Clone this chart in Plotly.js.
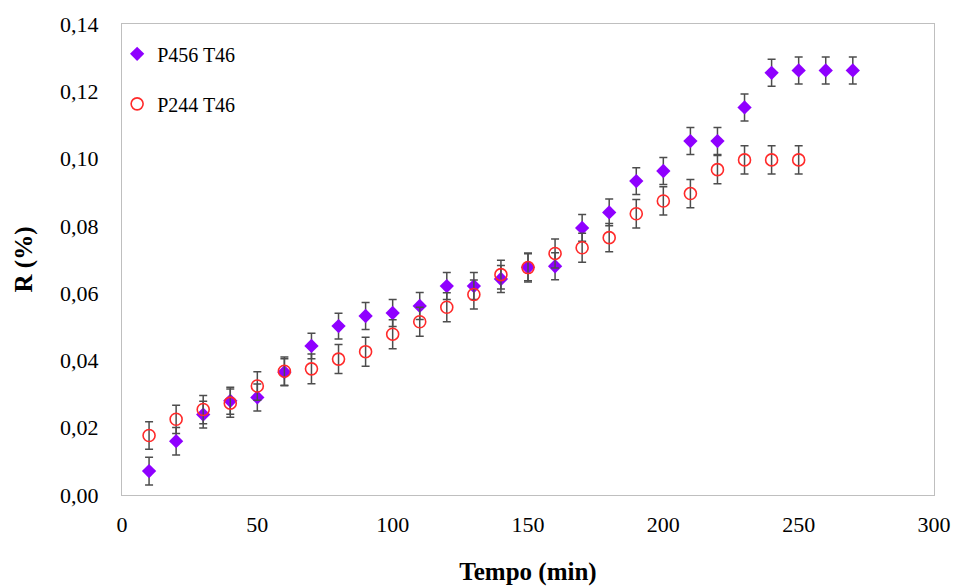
<!DOCTYPE html>
<html>
<head>
<meta charset="utf-8">
<script src="https://cdn.plot.ly/plotly-3.0.1.min.js"></script>
<style>
  html, body { margin: 0; padding: 0; background: #fff; }
  #chart { width: 954px; height: 586px; }
</style>
</head>
<body>
<div id="chart"></div>
<script>
// Time points (min)
const tempoP456 = [10, 20, 30, 40, 50, 60, 70, 80, 90, 100, 110, 120, 130, 140, 150, 160, 170, 180, 190, 200, 210, 220, 230, 240, 250, 260, 270];
const tempoP244 = [10, 20, 30, 40, 50, 60, 70, 80, 90, 100, 110, 120, 130, 140, 150, 160, 170, 180, 190, 200, 210, 220, 230, 240, 250];

// R (%) values
const rP456 = [0.0071, 0.0160, 0.0239, 0.0280, 0.0290, 0.0365, 0.0443, 0.0502, 0.0532, 0.0541, 0.0562, 0.0621, 0.0621, 0.0642, 0.0677, 0.0680, 0.0794, 0.0840, 0.0933, 0.0963, 0.1052, 0.1052, 0.1152, 0.1255, 0.1262, 0.1262, 0.1262];
const rP244 = [0.0177, 0.0225, 0.0254, 0.0273, 0.0324, 0.0368, 0.0375, 0.0404, 0.0426, 0.0478, 0.0515, 0.0558, 0.0596, 0.0655, 0.0676, 0.0718, 0.0735, 0.0765, 0.0836, 0.0874, 0.0896, 0.0967, 0.0996, 0.0996, 0.0996];

// Standard deviations
const errP456 = [0.0041, 0.0041, 0.0040, 0.0040, 0.0040, 0.0040, 0.0038, 0.0038, 0.0040, 0.0040, 0.0040, 0.0040, 0.0040, 0.0040, 0.0040, 0.0040, 0.0040, 0.0040, 0.0040, 0.0040, 0.0040, 0.0040, 0.0040, 0.0040, 0.0040, 0.0040, 0.0040];
const errP244 = [0.0041, 0.0042, 0.0042, 0.0042, 0.0042, 0.0042, 0.0044, 0.0043, 0.0043, 0.0043, 0.0043, 0.0043, 0.0043, 0.0043, 0.0043, 0.0043, 0.0043, 0.0042, 0.0042, 0.0042, 0.0042, 0.0042, 0.0042, 0.0042, 0.0042];

const seriesNames = ['P456 T46', 'P244 T46'];

const serif = 'Liberation Serif, Times New Roman, serif';
const errStyle = { type: 'data', visible: true, color: '#4d4d4d', thickness: 1.5, width: 4 };

const traces = [
  {
    x: tempoP456, y: rP456, name: seriesNames[0], type: 'scatter', mode: 'markers',
    legendgroup: 'a',
    marker: { symbol: 'diamond', size: 11, color: '#8F00FF' },
    error_y: Object.assign({ array: errP456 }, errStyle)
  },
  {
    x: tempoP244, y: rP244, name: seriesNames[1], type: 'scatter', mode: 'markers',
    legendgroup: 'b',
    marker: { symbol: 'circle-open', size: 12, color: '#FF2A2A', line: { width: 1.6, color: '#FF2A2A' } },
    error_y: Object.assign({ array: errP244 }, errStyle)
  }
];

const layout = {
  width: 954, height: 586,
  margin: { l: 122, r: 20, t: 24, b: 91 },
  paper_bgcolor: '#ffffff', plot_bgcolor: '#ffffff',
  separators: ',.',
  font: { family: serif, color: '#000000', size: 22 },
  showlegend: true,
  legend: {
    x: -0.006, y: 0.978, xanchor: 'left', yanchor: 'top',
    bgcolor: 'rgba(0,0,0,0)', borderwidth: 0,
    font: { family: serif, size: 20, color: '#000000' },
    traceorder: 'grouped', tracegroupgap: 21, itemwidth: 30
  },
  xaxis: {
    range: [0, 300], dtick: 50, tick0: 0,
    showgrid: false, zeroline: false,
    showline: true, mirror: true, linecolor: '#BFBFBF', linewidth: 1,
    ticks: '', ticklabelstandoff: 10,
    tickfont: { family: serif, size: 22, color: '#000000' },
    title: { text: '<b>Tempo (min)</b>', font: { family: serif, size: 25, color: '#000000' }, standoff: 26 }
  },
  yaxis: {
    range: [0, 0.14], dtick: 0.02, tick0: 0, tickformat: '.2f',
    showgrid: false, zeroline: false,
    showline: true, mirror: true, linecolor: '#BFBFBF', linewidth: 1,
    ticks: '', ticklabelstandoff: 18,
    tickfont: { family: serif, size: 22, color: '#000000' },
    title: { text: '<b>R (%)</b>', font: { family: serif, size: 25, color: '#000000' }, standoff: 20 }
  }
};

Plotly.newPlot('chart', traces, layout, { displayModeBar: false, staticPlot: true });
</script>
</body>
</html>
